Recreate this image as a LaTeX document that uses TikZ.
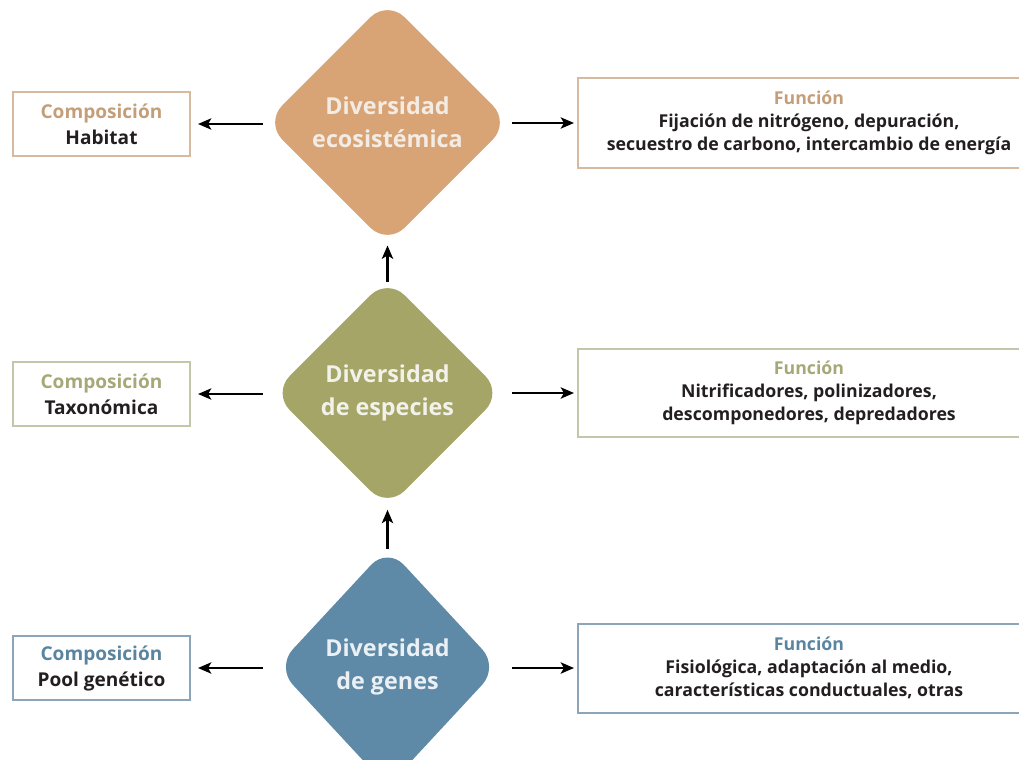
\documentclass[tikz,border=0pt]{standalone}
\usepackage{fontspec}
\setmainfont{Open Sans}
\usetikzlibrary{shapes.geometric,arrows.meta}

\definecolor{ecoFill}{HTML}{D8A475}
\definecolor{ecoText}{HTML}{C49E78}
\definecolor{ecoLine}{HTML}{D7B9A0}
\definecolor{espFill}{HTML}{A4A566}
\definecolor{espText}{HTML}{A6A878}
\definecolor{espLine}{HTML}{C4C6AA}
\definecolor{genFill}{HTML}{5E8AA8}
\definecolor{genText}{HTML}{5A84A0}
\definecolor{genLine}{HTML}{8CA5B9}
\definecolor{boxText}{HTML}{231F20}

\tikzset{every picture/.style={line width=0.75pt}}
\tikzset{
  diversidad/.style={diamond, rounded corners=18pt, inner sep=0pt, align=center,
    font=\fontsize{17.5}{24.75}\selectfont\bfseries},
  composicion/.style={draw, line width=1.5pt, minimum width=132.75pt, minimum height=48pt,
    inner sep=0pt, align=center, text=boxText, font=\fontsize{14.3}{19.5}\selectfont\bfseries},
  funcion/.style={draw, line width=1.5pt, minimum width=346.5pt, inner sep=0pt,
    align=center, text=boxText, font=\fontsize{13.3}{17}\selectfont\bfseries},
  flecha/.style={-{Stealth[length=10pt,width=8.5pt,inset=2.5pt]}, line width=1.6pt}
}

\begin{document}
\begin{tikzpicture}[x=0.75pt,y=0.75pt,yscale=-1,xscale=1]
\path[use as bounding box] (0,0) rectangle (1019,759);
\clip (0,0) rectangle (1019,759);

% Diamonds
\node (eco) [diversidad, fill=ecoFill, text=ecoText!20!white, minimum width=183.75pt, minimum height=183.75pt] at (387.5,122.5) {Diversidad\\ecosistémica};
\node (esp) [diversidad, fill=espFill, text=espText!15!white, minimum width=172.5pt, minimum height=172.5pt] at (387.5,393) {Diversidad\\de especies};
\node (gen) [diversidad, fill=genFill, text=genText!12!white, minimum width=167pt, minimum height=180pt] at (387.5,667) {Diversidad\\de genes};

% Composicion boxes
\node (compEco) [composicion, draw=ecoLine] at (101.5,124) {\textcolor{ecoText}{Composición}\\Habitat};
\node (compEsp) [composicion, draw=espLine] at (101.5,394) {\textcolor{espText}{Composición}\\Taxonómica};
\node (compGen) [composicion, draw=genLine] at (101.5,668) {\textcolor{genText}{Composición}\\Pool genético};

% Funcion boxes
\node (funEco) [funcion, draw=ecoLine, minimum height=67.5pt] at (809,123) {\textcolor{ecoText}{Función}\\Fijación de nitrógeno, depuración,\\secuestro de carbono, intercambio de energía};
\node (funEsp) [funcion, draw=espLine, minimum height=66pt] at (809,393) {\textcolor{espText}{Función}\\Nitrificadores, polinizadores,\\descomponedores, depredadores};
\node (funGen) [funcion, draw=genLine, minimum height=66.75pt] at (809,668) {\textcolor{genText}{Función}\\Fisiológica, adaptación al medio,\\características conductuales, otras};

% Arrow tails
\coordinate (ecoO) at (263,124);
\coordinate (ecoE) at (512,123);
\coordinate (espO) at (263,394);
\coordinate (espE) at (512,393);
\coordinate (genO) at (263,668);
\coordinate (genE) at (512,668);

% Connection
\draw [flecha, shorten >=5.25pt] (ecoO) -- (compEco.east);
\draw [flecha, shorten >=2.25pt] (ecoE) -- (funEco.west);
\draw [flecha, shorten >=5.25pt] (espO) -- (compEsp.east);
\draw [flecha, shorten >=2.25pt] (espE) -- (funEsp.west);
\draw [flecha, shorten >=5.25pt] (genO) -- (compGen.east);
\draw [flecha, shorten >=2.25pt] (genE) -- (funGen.west);
% Connection
\draw [flecha, shorten <=-3pt] (esp.north) -- (eco.south);
\draw [flecha, shorten <=-2pt, shorten >=1pt] (gen.north) -- (esp.south);

\end{tikzpicture}
\end{document}
